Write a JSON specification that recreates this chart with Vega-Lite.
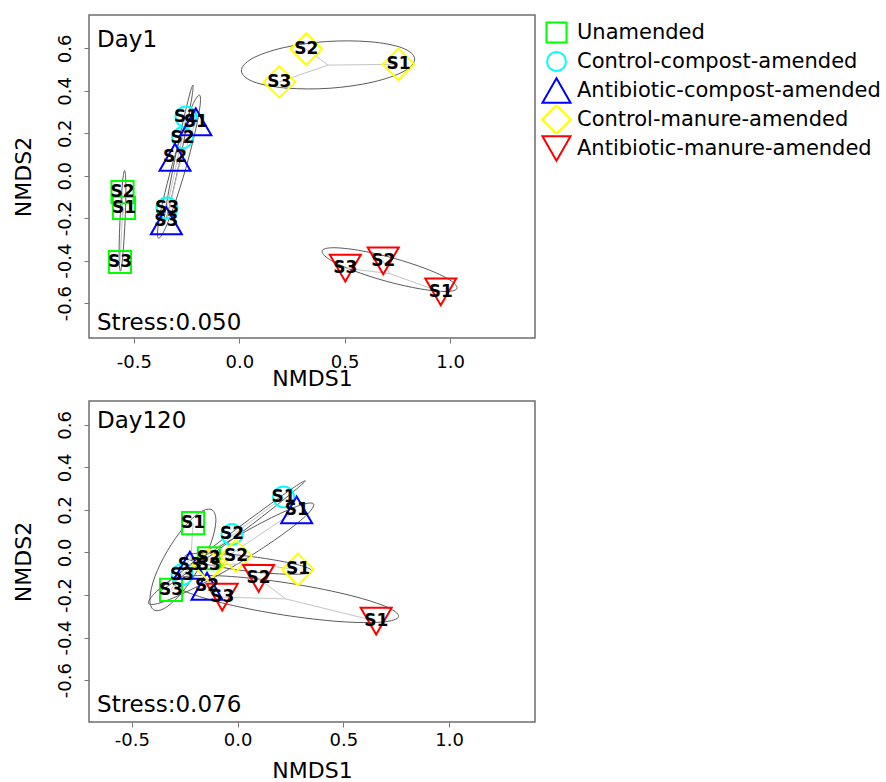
{
  "$schema": "https://vega.github.io/schema/vega-lite/v6.json",
  "background": "white",
  "padding": {"left": 11, "top": 14, "right": 0, "bottom": 0},
  "spacing": 63,
  "bounds": "flush",
  "config": {
    "font": "DejaVu Sans",
    "view": {"stroke": "#6e6e6e", "strokeWidth": 1.5},
    "axis": {"grid": false, "domain": false, "tickColor": "#777777", "tickSize": 5, "labelFont": "DejaVu Sans", "labelFontSize": 18, "labelColor": "black", "titleFont": "DejaVu Sans", "titleFontSize": 22, "titleFontWeight": "normal", "titleColor": "black", "labelOverlap": false, "labelBound": false, "labelFlush": false},
    "axisY": {"labelAngle": 270, "labelAlign": "center", "labelBaseline": "alphabetic", "labelPadding": 14, "minExtent": 40, "maxExtent": 40, "titlePadding": 14},
    "legend": {"orient": "right", "offset": 2, "padding": 3, "labelFont": "DejaVu Sans", "labelFontSize": 21, "labelColor": "black", "labelLimit": 400, "symbolSize": 820, "symbolStrokeWidth": 2, "rowPadding": 0, "clipHeight": 29, "labelOffset": 5, "symbolFillColor": "transparent"}
  },
  "datasets": {
    "pts": [
      {"day": "Day1", "group": "Unamended", "s": "S1", "x": -0.547, "y": -0.151},
      {"day": "Day1", "group": "Unamended", "s": "S2", "x": -0.554, "y": -0.077},
      {"day": "Day1", "group": "Unamended", "s": "S3", "x": -0.566, "y": -0.406},
      {"day": "Day1", "group": "Control-compost-amended", "s": "S1", "x": -0.253, "y": 0.277},
      {"day": "Day1", "group": "Control-compost-amended", "s": "S2", "x": -0.269, "y": 0.179},
      {"day": "Day1", "group": "Control-compost-amended", "s": "S3", "x": -0.343, "y": -0.151},
      {"day": "Day1", "group": "Antibiotic-compost-amended", "s": "S1", "x": -0.206, "y": 0.254},
      {"day": "Day1", "group": "Antibiotic-compost-amended", "s": "S2", "x": -0.305, "y": 0.087},
      {"day": "Day1", "group": "Antibiotic-compost-amended", "s": "S3", "x": -0.346, "y": -0.212},
      {"day": "Day1", "group": "Control-manure-amended", "s": "S1", "x": 0.755, "y": 0.525},
      {"day": "Day1", "group": "Control-manure-amended", "s": "S2", "x": 0.318, "y": 0.596},
      {"day": "Day1", "group": "Control-manure-amended", "s": "S3", "x": 0.190, "y": 0.442},
      {"day": "Day1", "group": "Antibiotic-manure-amended", "s": "S1", "x": 0.956, "y": -0.547},
      {"day": "Day1", "group": "Antibiotic-manure-amended", "s": "S2", "x": 0.683, "y": -0.401},
      {"day": "Day1", "group": "Antibiotic-manure-amended", "s": "S3", "x": 0.503, "y": -0.435},
      {"day": "Day120", "group": "Unamended", "s": "S1", "x": -0.211, "y": 0.138},
      {"day": "Day120", "group": "Unamended", "s": "S2", "x": -0.136, "y": -0.027},
      {"day": "Day120", "group": "Unamended", "s": "S3", "x": -0.315, "y": -0.176},
      {"day": "Day120", "group": "Control-compost-amended", "s": "S1", "x": 0.217, "y": 0.261},
      {"day": "Day120", "group": "Control-compost-amended", "s": "S2", "x": -0.027, "y": 0.085},
      {"day": "Day120", "group": "Control-compost-amended", "s": "S3", "x": -0.263, "y": -0.104},
      {"day": "Day120", "group": "Antibiotic-compost-amended", "s": "S1", "x": 0.279, "y": 0.200},
      {"day": "Day120", "group": "Antibiotic-compost-amended", "s": "S2", "x": -0.145, "y": -0.159},
      {"day": "Day120", "group": "Antibiotic-compost-amended", "s": "S3", "x": -0.226, "y": -0.060},
      {"day": "Day120", "group": "Control-manure-amended", "s": "S1", "x": 0.285, "y": -0.080},
      {"day": "Day120", "group": "Control-manure-amended", "s": "S2", "x": -0.008, "y": -0.016},
      {"day": "Day120", "group": "Control-manure-amended", "s": "S3", "x": -0.137, "y": -0.060},
      {"day": "Day120", "group": "Antibiotic-manure-amended", "s": "S1", "x": 0.655, "y": -0.323},
      {"day": "Day120", "group": "Antibiotic-manure-amended", "s": "S2", "x": 0.099, "y": -0.122},
      {"day": "Day120", "group": "Antibiotic-manure-amended", "s": "S3", "x": -0.073, "y": -0.210}
    ],
    "ell": [
      {"day": "Day1", "group": "Unamended", "k": 0, "x": -0.544, "y": 0.025},
      {"day": "Day1", "group": "Unamended", "k": 1, "x": -0.551, "y": -0.006},
      {"day": "Day1", "group": "Unamended", "k": 2, "x": -0.559, "y": -0.093},
      {"day": "Day1", "group": "Unamended", "k": 3, "x": -0.566, "y": -0.212},
      {"day": "Day1", "group": "Unamended", "k": 4, "x": -0.570, "y": -0.330},
      {"day": "Day1", "group": "Unamended", "k": 5, "x": -0.569, "y": -0.417},
      {"day": "Day1", "group": "Unamended", "k": 6, "x": -0.564, "y": -0.449},
      {"day": "Day1", "group": "Unamended", "k": 7, "x": -0.557, "y": -0.418},
      {"day": "Day1", "group": "Unamended", "k": 8, "x": -0.549, "y": -0.331},
      {"day": "Day1", "group": "Unamended", "k": 9, "x": -0.542, "y": -0.213},
      {"day": "Day1", "group": "Unamended", "k": 10, "x": -0.538, "y": -0.094},
      {"day": "Day1", "group": "Unamended", "k": 11, "x": -0.539, "y": -0.007},
      {"day": "Day1", "group": "Control-compost-amended", "k": 0, "x": -0.220, "y": 0.427},
      {"day": "Day1", "group": "Control-compost-amended", "k": 1, "x": -0.235, "y": 0.385},
      {"day": "Day1", "group": "Control-compost-amended", "k": 2, "x": -0.264, "y": 0.267},
      {"day": "Day1", "group": "Control-compost-amended", "k": 3, "x": -0.300, "y": 0.105},
      {"day": "Day1", "group": "Control-compost-amended", "k": 4, "x": -0.332, "y": -0.058},
      {"day": "Day1", "group": "Control-compost-amended", "k": 5, "x": -0.353, "y": -0.178},
      {"day": "Day1", "group": "Control-compost-amended", "k": 6, "x": -0.356, "y": -0.223},
      {"day": "Day1", "group": "Control-compost-amended", "k": 7, "x": -0.341, "y": -0.181},
      {"day": "Day1", "group": "Control-compost-amended", "k": 8, "x": -0.312, "y": -0.063},
      {"day": "Day1", "group": "Control-compost-amended", "k": 9, "x": -0.276, "y": 0.100},
      {"day": "Day1", "group": "Control-compost-amended", "k": 10, "x": -0.244, "y": 0.262},
      {"day": "Day1", "group": "Control-compost-amended", "k": 11, "x": -0.223, "y": 0.382},
      {"day": "Day1", "group": "Antibiotic-compost-amended", "k": 0, "x": -0.189, "y": 0.380},
      {"day": "Day1", "group": "Antibiotic-compost-amended", "k": 1, "x": -0.218, "y": 0.340},
      {"day": "Day1", "group": "Antibiotic-compost-amended", "k": 2, "x": -0.265, "y": 0.220},
      {"day": "Day1", "group": "Antibiotic-compost-amended", "k": 3, "x": -0.318, "y": 0.052},
      {"day": "Day1", "group": "Antibiotic-compost-amended", "k": 4, "x": -0.362, "y": -0.118},
      {"day": "Day1", "group": "Antibiotic-compost-amended", "k": 5, "x": -0.386, "y": -0.245},
      {"day": "Day1", "group": "Antibiotic-compost-amended", "k": 6, "x": -0.383, "y": -0.294},
      {"day": "Day1", "group": "Antibiotic-compost-amended", "k": 7, "x": -0.354, "y": -0.254},
      {"day": "Day1", "group": "Antibiotic-compost-amended", "k": 8, "x": -0.307, "y": -0.134},
      {"day": "Day1", "group": "Antibiotic-compost-amended", "k": 9, "x": -0.254, "y": 0.034},
      {"day": "Day1", "group": "Antibiotic-compost-amended", "k": 10, "x": -0.210, "y": 0.204},
      {"day": "Day1", "group": "Antibiotic-compost-amended", "k": 11, "x": -0.186, "y": 0.331},
      {"day": "Day1", "group": "Control-manure-amended", "k": 0, "x": 0.832, "y": 0.551},
      {"day": "Day1", "group": "Control-manure-amended", "k": 1, "x": 0.773, "y": 0.602},
      {"day": "Day1", "group": "Control-manure-amended", "k": 2, "x": 0.620, "y": 0.631},
      {"day": "Day1", "group": "Control-manure-amended", "k": 3, "x": 0.413, "y": 0.632},
      {"day": "Day1", "group": "Control-manure-amended", "k": 4, "x": 0.209, "y": 0.603},
      {"day": "Day1", "group": "Control-manure-amended", "k": 5, "x": 0.061, "y": 0.552},
      {"day": "Day1", "group": "Control-manure-amended", "k": 6, "x": 0.010, "y": 0.493},
      {"day": "Day1", "group": "Control-manure-amended", "k": 7, "x": 0.069, "y": 0.442},
      {"day": "Day1", "group": "Control-manure-amended", "k": 8, "x": 0.222, "y": 0.413},
      {"day": "Day1", "group": "Control-manure-amended", "k": 9, "x": 0.429, "y": 0.412},
      {"day": "Day1", "group": "Control-manure-amended", "k": 10, "x": 0.633, "y": 0.441},
      {"day": "Day1", "group": "Control-manure-amended", "k": 11, "x": 0.781, "y": 0.492},
      {"day": "Day1", "group": "Antibiotic-manure-amended", "k": 0, "x": 1.033, "y": -0.530},
      {"day": "Day1", "group": "Antibiotic-manure-amended", "k": 1, "x": 0.998, "y": -0.490},
      {"day": "Day1", "group": "Antibiotic-manure-amended", "k": 2, "x": 0.886, "y": -0.438},
      {"day": "Day1", "group": "Antibiotic-manure-amended", "k": 3, "x": 0.728, "y": -0.387},
      {"day": "Day1", "group": "Antibiotic-manure-amended", "k": 4, "x": 0.566, "y": -0.351},
      {"day": "Day1", "group": "Antibiotic-manure-amended", "k": 5, "x": 0.443, "y": -0.339},
      {"day": "Day1", "group": "Antibiotic-manure-amended", "k": 6, "x": 0.393, "y": -0.354},
      {"day": "Day1", "group": "Antibiotic-manure-amended", "k": 7, "x": 0.428, "y": -0.394},
      {"day": "Day1", "group": "Antibiotic-manure-amended", "k": 8, "x": 0.540, "y": -0.446},
      {"day": "Day1", "group": "Antibiotic-manure-amended", "k": 9, "x": 0.698, "y": -0.497},
      {"day": "Day1", "group": "Antibiotic-manure-amended", "k": 10, "x": 0.860, "y": -0.533},
      {"day": "Day1", "group": "Antibiotic-manure-amended", "k": 11, "x": 0.983, "y": -0.545},
      {"day": "Day120", "group": "Unamended", "k": 0, "x": -0.121, "y": 0.200},
      {"day": "Day120", "group": "Unamended", "k": 1, "x": -0.176, "y": 0.190},
      {"day": "Day120", "group": "Unamended", "k": 2, "x": -0.253, "y": 0.120},
      {"day": "Day120", "group": "Unamended", "k": 3, "x": -0.332, "y": 0.008},
      {"day": "Day120", "group": "Unamended", "k": 4, "x": -0.392, "y": -0.115},
      {"day": "Day120", "group": "Unamended", "k": 5, "x": -0.415, "y": -0.217},
      {"day": "Day120", "group": "Unamended", "k": 6, "x": -0.397, "y": -0.270},
      {"day": "Day120", "group": "Unamended", "k": 7, "x": -0.342, "y": -0.260},
      {"day": "Day120", "group": "Unamended", "k": 8, "x": -0.265, "y": -0.190},
      {"day": "Day120", "group": "Unamended", "k": 9, "x": -0.186, "y": -0.078},
      {"day": "Day120", "group": "Unamended", "k": 10, "x": -0.126, "y": 0.045},
      {"day": "Day120", "group": "Unamended", "k": 11, "x": -0.103, "y": 0.147},
      {"day": "Day120", "group": "Control-compost-amended", "k": 0, "x": 0.320, "y": 0.337},
      {"day": "Day120", "group": "Control-compost-amended", "k": 1, "x": 0.269, "y": 0.308},
      {"day": "Day120", "group": "Control-compost-amended", "k": 2, "x": 0.140, "y": 0.217},
      {"day": "Day120", "group": "Control-compost-amended", "k": 3, "x": -0.034, "y": 0.089},
      {"day": "Day120", "group": "Control-compost-amended", "k": 4, "x": -0.206, "y": -0.042},
      {"day": "Day120", "group": "Control-compost-amended", "k": 5, "x": -0.330, "y": -0.141},
      {"day": "Day120", "group": "Control-compost-amended", "k": 6, "x": -0.372, "y": -0.181},
      {"day": "Day120", "group": "Control-compost-amended", "k": 7, "x": -0.321, "y": -0.152},
      {"day": "Day120", "group": "Control-compost-amended", "k": 8, "x": -0.192, "y": -0.061},
      {"day": "Day120", "group": "Control-compost-amended", "k": 9, "x": -0.018, "y": 0.067},
      {"day": "Day120", "group": "Control-compost-amended", "k": 10, "x": 0.154, "y": 0.198},
      {"day": "Day120", "group": "Control-compost-amended", "k": 11, "x": 0.277, "y": 0.297},
      {"day": "Day120", "group": "Antibiotic-compost-amended", "k": 0, "x": 0.359, "y": 0.228},
      {"day": "Day120", "group": "Antibiotic-compost-amended", "k": 1, "x": 0.292, "y": 0.221},
      {"day": "Day120", "group": "Antibiotic-compost-amended", "k": 2, "x": 0.139, "y": 0.153},
      {"day": "Day120", "group": "Antibiotic-compost-amended", "k": 3, "x": -0.060, "y": 0.043},
      {"day": "Day120", "group": "Antibiotic-compost-amended", "k": 4, "x": -0.252, "y": -0.081},
      {"day": "Day120", "group": "Antibiotic-compost-amended", "k": 5, "x": -0.384, "y": -0.184},
      {"day": "Day120", "group": "Antibiotic-compost-amended", "k": 6, "x": -0.421, "y": -0.240},
      {"day": "Day120", "group": "Antibiotic-compost-amended", "k": 7, "x": -0.354, "y": -0.233},
      {"day": "Day120", "group": "Antibiotic-compost-amended", "k": 8, "x": -0.201, "y": -0.165},
      {"day": "Day120", "group": "Antibiotic-compost-amended", "k": 9, "x": -0.002, "y": -0.055},
      {"day": "Day120", "group": "Antibiotic-compost-amended", "k": 10, "x": 0.190, "y": 0.069},
      {"day": "Day120", "group": "Antibiotic-compost-amended", "k": 11, "x": 0.322, "y": 0.172},
      {"day": "Day120", "group": "Control-manure-amended", "k": 0, "x": 0.352, "y": -0.089},
      {"day": "Day120", "group": "Control-manure-amended", "k": 1, "x": 0.314, "y": -0.066},
      {"day": "Day120", "group": "Control-manure-amended", "k": 2, "x": 0.205, "y": -0.041},
      {"day": "Day120", "group": "Control-manure-amended", "k": 3, "x": 0.055, "y": -0.018},
      {"day": "Day120", "group": "Control-manure-amended", "k": 4, "x": -0.096, "y": -0.005},
      {"day": "Day120", "group": "Control-manure-amended", "k": 5, "x": -0.208, "y": -0.005},
      {"day": "Day120", "group": "Control-manure-amended", "k": 6, "x": -0.250, "y": -0.018},
      {"day": "Day120", "group": "Control-manure-amended", "k": 7, "x": -0.212, "y": -0.040},
      {"day": "Day120", "group": "Control-manure-amended", "k": 8, "x": -0.103, "y": -0.065},
      {"day": "Day120", "group": "Control-manure-amended", "k": 9, "x": 0.047, "y": -0.088},
      {"day": "Day120", "group": "Control-manure-amended", "k": 10, "x": 0.198, "y": -0.101},
      {"day": "Day120", "group": "Control-manure-amended", "k": 11, "x": 0.310, "y": -0.101},
      {"day": "Day120", "group": "Antibiotic-manure-amended", "k": 0, "x": 0.761, "y": -0.301},
      {"day": "Day120", "group": "Antibiotic-manure-amended", "k": 1, "x": 0.695, "y": -0.252},
      {"day": "Day120", "group": "Antibiotic-manure-amended", "k": 2, "x": 0.504, "y": -0.195},
      {"day": "Day120", "group": "Antibiotic-manure-amended", "k": 3, "x": 0.239, "y": -0.144},
      {"day": "Day120", "group": "Antibiotic-manure-amended", "k": 4, "x": -0.030, "y": -0.113},
      {"day": "Day120", "group": "Antibiotic-manure-amended", "k": 5, "x": -0.229, "y": -0.111},
      {"day": "Day120", "group": "Antibiotic-manure-amended", "k": 6, "x": -0.307, "y": -0.138},
      {"day": "Day120", "group": "Antibiotic-manure-amended", "k": 7, "x": -0.241, "y": -0.186},
      {"day": "Day120", "group": "Antibiotic-manure-amended", "k": 8, "x": -0.050, "y": -0.243},
      {"day": "Day120", "group": "Antibiotic-manure-amended", "k": 9, "x": 0.216, "y": -0.294},
      {"day": "Day120", "group": "Antibiotic-manure-amended", "k": 10, "x": 0.484, "y": -0.325},
      {"day": "Day120", "group": "Antibiotic-manure-amended", "k": 11, "x": 0.683, "y": -0.327}
    ]
  },
  "vconcat": [
    {
      "width": 446,
      "height": 323,
      "layer": [
        {
          "data": {"name": "ell"},
          "transform": [{"filter": "datum.day === 'Day1'"}],
          "mark": {"type": "line", "interpolate": "cardinal-closed", "stroke": "#5a5a5a", "strokeWidth": 1},
          "encoding": {
            "x": {"field": "x", "type": "quantitative", "scale": {"domain": [-0.713, 1.403], "nice": false, "zero": false}, "axis": {"title": "NMDS1", "values": [-0.5, 0, 0.5, 1], "labelExpr": "replace(format(datum.value, '.1f'), '\u2212', '-')", "labelPadding": 10, "titlePadding": 10, "minExtent": 20, "maxExtent": 20}},
            "y": {"field": "y", "type": "quantitative", "scale": {"domain": [-0.764, 0.757], "nice": false, "zero": false}, "axis": {"title": "NMDS2", "values": [-0.6, -0.4, -0.2, 0, 0.2, 0.4, 0.6], "labelExpr": "replace(format(datum.value, '.1f'), '\u2212', '-')"}},
            "detail": {"field": "group"},
            "order": {"field": "k"}
          }
        },
        {
          "data": {"name": "pts"},
          "transform": [{"filter": "datum.day === 'Day1'"}, {"joinaggregate": [{"op": "mean", "field": "x", "as": "cx"}, {"op": "mean", "field": "y", "as": "cy"}], "groupby": ["group"]}],
          "mark": {"type": "rule", "color": "#c4c4c4", "strokeWidth": 1},
          "encoding": {
            "x": {"field": "x", "type": "quantitative"},
            "y": {"field": "y", "type": "quantitative"},
            "x2": {"field": "cx"},
            "y2": {"field": "cy"}
          }
        },
        {
          "data": {"name": "pts"},
          "transform": [{"filter": "datum.day === 'Day1'"}],
          "mark": {"type": "point", "filled": false, "strokeWidth": 2, "opacity": 1, "size": 1000},
          "encoding": {
            "x": {"field": "x", "type": "quantitative"},
            "y": {"field": "y", "type": "quantitative"},
            "color": {"field": "group", "type": "nominal", "title": null, "scale": {"domain": ["Unamended", "Control-compost-amended", "Antibiotic-compost-amended", "Control-manure-amended", "Antibiotic-manure-amended"], "range": ["#00ff00", "#00ffff", "#0000ff", "#ffff00", "#ff0000"]}},
            "shape": {"field": "group", "type": "nominal", "title": null, "scale": {"domain": ["Unamended", "Control-compost-amended", "Antibiotic-compost-amended", "Control-manure-amended", "Antibiotic-manure-amended"], "range": ["M-0.7,-0.7L0.7,-0.7L0.7,0.7L-0.7,0.7Z", "M0.66,0A0.66,0.66,0,1,1,-0.66,0A0.66,0.66,0,1,1,0.66,0Z", "M0,-0.85L0.98,0.85L-0.98,0.85Z", "M-1,0L0,-1L1,0L0,1Z", "M0,0.85L0.98,-0.85L-0.98,-0.85Z"]}}
          }
        },
        {
          "data": {"name": "pts"},
          "transform": [{"filter": "datum.day === 'Day1'"}],
          "mark": {"type": "text", "fontWeight": "bold", "fontSize": 17, "color": "black", "align": "center", "baseline": "middle"},
          "encoding": {
            "x": {"field": "x", "type": "quantitative"},
            "y": {"field": "y", "type": "quantitative"},
            "text": {"field": "s"}
          }
        },
        {
          "data": {"values": [{}]},
          "mark": {"type": "text", "align": "left", "baseline": "middle", "fontSize": 23, "color": "black"},
          "encoding": {
            "x": {"datum": -0.675, "type": "quantitative"},
            "y": {"datum": 0.64, "type": "quantitative"},
            "text": {"value": "Day1"}
          }
        },
        {
          "data": {"values": [{}]},
          "mark": {"type": "text", "align": "left", "baseline": "middle", "fontSize": 23, "color": "black"},
          "encoding": {
            "x": {"datum": -0.675, "type": "quantitative"},
            "y": {"datum": -0.695, "type": "quantitative"},
            "text": {"value": "Stress:0.050"}
          }
        }
      ]
    },
    {
      "width": 446,
      "height": 321,
      "layer": [
        {
          "data": {"name": "ell"},
          "transform": [{"filter": "datum.day === 'Day120'"}],
          "mark": {"type": "line", "interpolate": "cardinal-closed", "stroke": "#5a5a5a", "strokeWidth": 1},
          "encoding": {
            "x": {"field": "x", "type": "quantitative", "scale": {"domain": [-0.703, 1.406], "nice": false, "zero": false}, "axis": {"title": "NMDS1", "values": [-0.5, 0, 0.5, 1], "labelExpr": "replace(format(datum.value, '.1f'), '\u2212', '-')", "labelPadding": 4, "titlePadding": 18, "minExtent": 20, "maxExtent": 20}},
            "y": {"field": "y", "type": "quantitative", "scale": {"domain": [-0.797, 0.712], "nice": false, "zero": false}, "axis": {"title": "NMDS2", "values": [-0.6, -0.4, -0.2, 0, 0.2, 0.4, 0.6], "labelExpr": "replace(format(datum.value, '.1f'), '\u2212', '-')"}},
            "detail": {"field": "group"},
            "order": {"field": "k"}
          }
        },
        {
          "data": {"name": "pts"},
          "transform": [{"filter": "datum.day === 'Day120'"}, {"joinaggregate": [{"op": "mean", "field": "x", "as": "cx"}, {"op": "mean", "field": "y", "as": "cy"}], "groupby": ["group"]}],
          "mark": {"type": "rule", "color": "#c4c4c4", "strokeWidth": 1},
          "encoding": {
            "x": {"field": "x", "type": "quantitative"},
            "y": {"field": "y", "type": "quantitative"},
            "x2": {"field": "cx"},
            "y2": {"field": "cy"}
          }
        },
        {
          "data": {"name": "pts"},
          "transform": [{"filter": "datum.day === 'Day120'"}],
          "mark": {"type": "point", "filled": false, "strokeWidth": 2, "opacity": 1, "size": 1000},
          "encoding": {
            "x": {"field": "x", "type": "quantitative"},
            "y": {"field": "y", "type": "quantitative"},
            "color": {"field": "group", "type": "nominal", "title": null, "scale": {"domain": ["Unamended", "Control-compost-amended", "Antibiotic-compost-amended", "Control-manure-amended", "Antibiotic-manure-amended"], "range": ["#00ff00", "#00ffff", "#0000ff", "#ffff00", "#ff0000"]}},
            "shape": {"field": "group", "type": "nominal", "title": null, "scale": {"domain": ["Unamended", "Control-compost-amended", "Antibiotic-compost-amended", "Control-manure-amended", "Antibiotic-manure-amended"], "range": ["M-0.7,-0.7L0.7,-0.7L0.7,0.7L-0.7,0.7Z", "M0.66,0A0.66,0.66,0,1,1,-0.66,0A0.66,0.66,0,1,1,0.66,0Z", "M0,-0.85L0.98,0.85L-0.98,0.85Z", "M-1,0L0,-1L1,0L0,1Z", "M0,0.85L0.98,-0.85L-0.98,-0.85Z"]}}
          }
        },
        {
          "data": {"name": "pts"},
          "transform": [{"filter": "datum.day === 'Day120'"}],
          "mark": {"type": "text", "fontWeight": "bold", "fontSize": 17, "color": "black", "align": "center", "baseline": "middle"},
          "encoding": {
            "x": {"field": "x", "type": "quantitative"},
            "y": {"field": "y", "type": "quantitative"},
            "text": {"field": "s"}
          }
        },
        {
          "data": {"values": [{}]},
          "mark": {"type": "text", "align": "left", "baseline": "middle", "fontSize": 23, "color": "black"},
          "encoding": {
            "x": {"datum": -0.665, "type": "quantitative"},
            "y": {"datum": 0.618, "type": "quantitative"},
            "text": {"value": "Day120"}
          }
        },
        {
          "data": {"values": [{}]},
          "mark": {"type": "text", "align": "left", "baseline": "middle", "fontSize": 23, "color": "black"},
          "encoding": {
            "x": {"datum": -0.665, "type": "quantitative"},
            "y": {"datum": -0.715, "type": "quantitative"},
            "text": {"value": "Stress:0.076"}
          }
        }
      ]
    }
  ]
}
